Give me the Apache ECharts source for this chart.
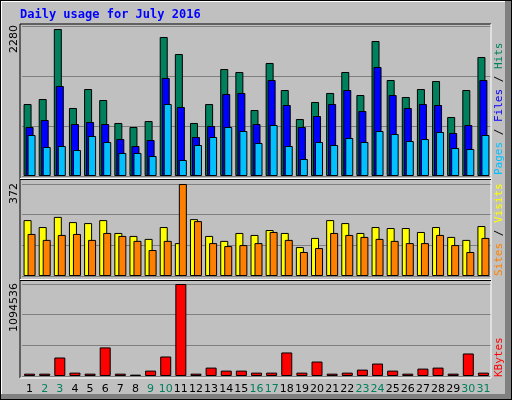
<!DOCTYPE html>
<html><head><meta charset="utf-8">
<script src="https://cdn.jsdelivr.net/npm/echarts@6/dist/echarts.min.js"></script>
<style>html,body{margin:0;padding:0;background:#c0c0c0}#c{width:512px;height:400px}</style>
</head><body><div id="c"></div>
<script>
const days = ['1','2','3','4','5','6','7','8','9','10','11','12','13','14','15','16','17','18','19','20','21','22','23','24','25','26','27','28','29','30','31'];
const weekend = ['2','3','9','10','16','17','23','24','30','31'];
const hits  = [1094,1170,2234,1034,1322,1155,806,745,836,2113,1854,806,1094,1626,1581,1003,1718,1307,866,1125,1262,1581,1231,2052,1459,1201,1322,1444,897,1307,1809];
const files = [745,851,1368,790,821,790,562,456,547,1490,1049,593,760,1246,1262,790,1459,1079,745,912,1094,1307,988,1657,1231,1034,1094,1079,654,775,1459];
const pages = [623,441,456,395,608,517,350,350,304,1094,243,471,593,745,684,502,775,456,258,517,471,578,517,684,638,532,562,669,426,410,623];
const visits = [226,198,239,218,214,226,174,162,150,198,133,230,162,142,174,166,186,174,117,154,226,214,174,198,194,194,178,198,158,146,202];
const sites  = [170,146,166,170,146,174,162,142,105,142,372,222,133,121,125,133,178,146,97,113,174,166,158,150,142,133,133,166,125,97,154];
const kbytes = [28000,28000,220000,40000,28000,340000,28000,16000,64000,232000,1094536,28000,100000,64000,64000,40000,40000,280000,40000,172000,28000,40000,76000,148000,64000,28000,88000,100000,28000,268000,40000];
const maxLabels = ['2280','372','1094536'];

const chart = echarts.init(document.getElementById('c'), null, {renderer:'canvas'});
const grids = [{top:26,height:150},{top:184,height:92},{top:284,height:92}];
const maxes = [2280,372,1094536];
const bs = {borderColor:'#000',borderWidth:1};
function xa(i){return {type:'category',gridIndex:i,data:days,axisLine:{show:false},axisTick:{show:false},
  axisLabel:{show:i===2,interval:0,margin:8,fontFamily:'DejaVu Sans',fontSize:11,
   color:(v)=>weekend.includes(v)?'#00805c':'#000'}};}
function ya(i){return {type:'value',gridIndex:i,min:0,max:maxes[i],interval:maxes[i]/3,axisLabel:{show:false},
  axisLine:{show:false},axisTick:{show:false},splitLine:{lineStyle:{color:'#808080',width:1}}};}
const mkBar=(name,data,color,gi,w,gap)=>({name,type:'bar',xAxisIndex:gi,yAxisIndex:gi,data,barWidth:w,barGap:gap,
  itemStyle:Object.assign({color},bs),animation:false,silent:true});
const mono = '11px "DejaVu Sans Mono"';
chart.setOption({
  animation:false,
  backgroundColor:'#c0c0c0',
  grid:grids.map(g=>({left:22,right:21,top:g.top,height:g.height,show:false})),
  xAxis:[xa(0),xa(1),xa(2)],
  yAxis:[ya(0),ya(1),ya(2)],
  series:[
    mkBar('Hits',hits,'#00805c',0,8,'-75%'),
    mkBar('Files',files,'#0000ff',0,8,'-75%'),
    mkBar('Pages',pages,'#00c0ff',0,8,'-75%'),
    mkBar('Visits',visits,'#ffff00',1,8,'-50%'),
    mkBar('Sites',sites,'#ff8000',1,8,'-50%'),
    mkBar('KBytes',kbytes,'#ff0000',2,11,'0%')
  ],
  graphic:[
    {type:'rect',z:-1,shape:{x:0,y:0,width:512,height:400},style:{fill:'#000'}},
    {type:'rect',z:-1,shape:{x:1,y:1,width:510,height:398},style:{fill:'#808080'}},
    {type:'rect',z:-1,shape:{x:1,y:1,width:504,height:393},style:{fill:'#ffffff'}},
    {type:'rect',z:-1,shape:{x:2,y:2,width:503,height:392},style:{fill:'#c0c0c0'}},
    {type:'polyline',z:10,shape:{points:[[20,378],[20,24],[491,24]]},style:{stroke:'#000',lineWidth:1,fill:null}},
    {type:'polyline',z:10,shape:{points:[[491,24],[491,378],[20,378]]},style:{stroke:'#fff',lineWidth:1,fill:null}},
    {type:'line',z:10,shape:{x1:20,y1:178.5,x2:491,y2:178.5},style:{stroke:'#fff',lineWidth:1}},
    {type:'line',z:10,shape:{x1:20,y1:179.5,x2:491,y2:179.5},style:{stroke:'#000',lineWidth:1}},
    {type:'line',z:10,shape:{x1:20,y1:279.5,x2:491,y2:279.5},style:{stroke:'#fff',lineWidth:1}},
    {type:'line',z:10,shape:{x1:20,y1:280.5,x2:491,y2:280.5},style:{stroke:'#000',lineWidth:1}},
    {type:'text',left:20,top:9,style:{text:'Daily usage for July 2016',fill:'#0000ff',font:'bold 12px "DejaVu Sans Mono"'}},
    {type:'text',x:9,y:25,rotation:Math.PI/2,style:{text:maxLabels[0],fill:'#000',font:'11px "DejaVu Sans"',align:'right',verticalAlign:'top'}},
    {type:'text',x:9,y:183,rotation:Math.PI/2,style:{text:maxLabels[1],fill:'#000',font:'11px "DejaVu Sans"',align:'right',verticalAlign:'top'}},
    {type:'text',x:9,y:283,rotation:Math.PI/2,style:{text:maxLabels[2],fill:'#000',font:'11px "DejaVu Sans"',align:'right',verticalAlign:'top'}},
    {type:'text',x:494,y:175,rotation:Math.PI/2,style:{text:'{p|Pages} {s|/} {f|Files} {s|/} {h|Hits}',
      font:mono,verticalAlign:'top',
      rich:{p:{fill:'#00c0ff',font:mono},f:{fill:'#0000ff',font:mono},h:{fill:'#00805c',font:mono},s:{fill:'#000',font:mono}}}},
    {type:'text',x:494,y:276,rotation:Math.PI/2,style:{text:'{a|Sites} {s|/} {b|Visits}',
      font:mono,verticalAlign:'top',
      rich:{a:{fill:'#ff8000',font:mono},b:{fill:'#ffff00',font:mono},s:{fill:'#000',font:mono}}}},
    {type:'text',x:494,y:377,rotation:Math.PI/2,style:{text:'KBytes',fill:'#ff0000',font:mono,verticalAlign:'top'}}
  ]
});
</script></body></html>
